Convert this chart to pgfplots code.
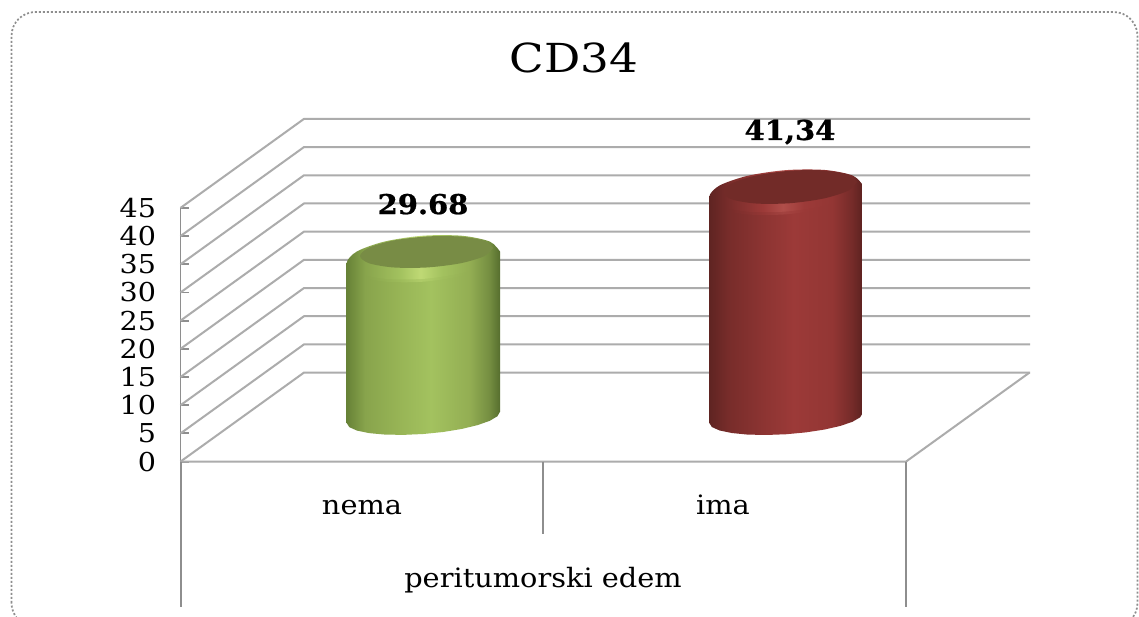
\documentclass[border=0pt]{standalone}
\usepackage{pgfplots}
\pgfplotsset{compat=1.18}
\usepackage{fontspec}
\setmainfont{DejaVu Serif}
\newfontfamily\heavy[FakeBold=0.8]{DejaVu Serif Bold}
\definecolor{axisgray}{HTML}{8E8E8E}
\definecolor{gridgray}{HTML}{ACACAC}
\definecolor{gA}{HTML}{678237}
\definecolor{gB}{HTML}{88A44C}
\definecolor{gC}{HTML}{98B556}
\definecolor{gD}{HTML}{A3C25F}
\definecolor{gE}{HTML}{93AE53}
\definecolor{gF}{HTML}{758E41}
\definecolor{gG}{HTML}{566E2E}
\definecolor{gL}{HTML}{BFD975}
\definecolor{gTop}{HTML}{788C45}
\definecolor{rA}{HTML}{5F2422}
\definecolor{rB}{HTML}{772C2A}
\definecolor{rC}{HTML}{8C3432}
\definecolor{rD}{HTML}{9C3A38}
\definecolor{rE}{HTML}{933634}
\definecolor{rF}{HTML}{752B29}
\definecolor{rG}{HTML}{5C2220}
\definecolor{rL}{HTML}{B04E4A}
\definecolor{rTop}{HTML}{722B28}
\pgfdeclarehorizontalshading{greenbody}{100bp}{color(0bp)=(gA);color(25bp)=(gA);color(31bp)=(gB);color(42.5bp)=(gC);color(52.5bp)=(gD);color(65bp)=(gE);color(71.5bp)=(gF);color(75bp)=(gG);color(100bp)=(gG)}
\pgfdeclarehorizontalshading{greenrim}{100bp}{color(0bp)=(gA);color(25bp)=(gA);color(31bp)=(gB);color(42.5bp)=(gD);color(49bp)=(gL);color(56bp)=(gD);color(65bp)=(gE);color(71.5bp)=(gF);color(75bp)=(gG);color(100bp)=(gG)}
\pgfdeclarehorizontalshading{redbody}{100bp}{color(0bp)=(rA);color(25bp)=(rA);color(31bp)=(rB);color(42.5bp)=(rC);color(52.5bp)=(rD);color(65bp)=(rE);color(71.5bp)=(rF);color(75bp)=(rG);color(100bp)=(rG)}
\pgfdeclarehorizontalshading{redrim}{100bp}{color(0bp)=(rA);color(25bp)=(rA);color(31bp)=(rB);color(42.5bp)=(rD);color(49bp)=(rL);color(56bp)=(rD);color(65bp)=(rE);color(71.5bp)=(rF);color(75bp)=(rG);color(100bp)=(rG)}
\begin{document}
\begin{tikzpicture}[x=0.75pt,y=0.75pt]
\useasboundingbox (0,0) rectangle (1139,617);
\clip (0,0) rectangle (1139,617);
\fill[white] (0,0) rectangle (1139,617);
\draw[axisgray,line width=1.3pt,dash pattern=on 1.5pt off 1.5pt,rounded corners=18pt] (11.5,-10) rectangle (1137.5,605);
\begin{axis}[
  at={(135.375pt,116.55pt)}, anchor=south west,
  scale only axis, width=543.75pt, height=190.275pt,
  xmin=180.5, xmax=905.5, ymin=0, ymax=45,
  clip=false,
  axis x line=none,
  axis y line*=left,
  axis line style={axisgray,line width=1.4pt,-},
  ytick={0,5,...,45},
  tick style={axisgray,line width=1.4pt},
  major tick length=6.5pt,
  y tick label style={font=\fontsize{19.5}{20}\selectfont,xscale=1.1,inner sep=0pt,xshift=-16.5pt},
  /pgf/number format/assume math mode=true,
  gridline/.style={gridgray,line width=1.5pt},
  frontline/.style={axisgray,line width=1.5pt},
]
% back wall and side wall gridlines
\addplot[gridline] coordinates {(180.5,0)(304,15.79)(1030,15.79)};
\addplot[gridline] coordinates {(180.5,5)(304,20.79)(1030,20.79)};
\addplot[gridline] coordinates {(180.5,10)(304,25.79)(1030,25.79)};
\addplot[gridline] coordinates {(180.5,15)(304,30.79)(1030,30.79)};
\addplot[gridline] coordinates {(180.5,20)(304,35.79)(1030,35.79)};
\addplot[gridline] coordinates {(180.5,25)(304,40.79)(1030,40.79)};
\addplot[gridline] coordinates {(180.5,30)(304,45.79)(1030,45.79)};
\addplot[gridline] coordinates {(180.5,35)(304,50.79)(1030,50.79)};
\addplot[gridline] coordinates {(180.5,40)(304,55.79)(1030,55.79)};
\addplot[gridline] coordinates {(180.5,45)(304,60.79)(1030,60.79)};
% floor edge and category separators
\addplot[gridline] coordinates {(180.5,0)(906,0)(1029.5,15.79)};
\addplot[frontline] coordinates {(180.5,0)(180.5,-25.8)};
\addplot[frontline] coordinates {(543,0)(543,-12.9)};
\addplot[frontline] coordinates {(906,0)(906,-25.8)};
% green cylinder
\addplot[draw=none,shade,shading=greenbody] coordinates {(346.7,35.23)(346.7,6.84)(349.31,6.11)(356.97,5.50)(369.16,5.05)(385.02,4.79)(403.5,4.74)(423.35,4.895)(443.2,5.25)(461.68,5.79)(477.54,6.47)(489.73,7.23)(497.39,8.04)(500,8.84)(500,37.25)};
\addplot[draw=none,shade,shading=greenrim,smooth,opacity=0.5] coordinates {(500,36.75)(489.73,38.53)(461.68,39.56)(423.35,39.57)(385.02,38.55)(356.97,36.78)(346.7,34.73)(356.97,32.95)(385.02,31.92)(423.35,31.91)(461.68,32.93)(489.73,34.70)(500,36.75)};
\addplot[draw=none,shade,shading=greenrim,smooth] coordinates {(500,37.25)(489.73,39.03)(461.68,40.06)(423.35,40.07)(385.02,39.05)(356.97,37.28)(346.7,35.23)(356.97,33.45)(385.02,32.42)(423.35,32.41)(461.68,33.43)(489.73,35.20)(500,37.25)};
\addplot[draw=none,fill=gTop,smooth] coordinates {(493,37.89)(484.09,39.17)(459.75,39.92)(426.5,39.93)(393.25,39.21)(368.91,37.94)(360,36.47)(368.91,35.19)(393.25,34.44)(426.5,34.43)(459.75,35.15)(484.09,36.42)(493,37.89)};
% red cylinder
\addplot[draw=none,shade,shading=redbody] coordinates {(709.3,46.99)(709.3,6.84)(711.91,6.13)(719.58,5.52)(731.77,5.07)(747.65,4.79)(766.13,4.72)(786,4.85)(805.87,5.18)(824.35,5.68)(840.23,6.32)(852.42,7.06)(860.09,7.84)(862.7,8.62)(862.7,49.07)};
\addplot[draw=none,shade,shading=redrim,smooth,opacity=0.5] coordinates {(862.7,48.57)(852.42,50.26)(824.35,51.23)(786,51.20)(747.65,50.19)(719.58,48.47)(709.3,46.49)(719.58,44.80)(747.65,43.83)(786,43.86)(824.35,44.87)(852.42,46.59)(862.7,48.57)};
\addplot[draw=none,shade,shading=redrim,smooth] coordinates {(862.7,49.07)(852.42,50.76)(824.35,51.73)(786,51.70)(747.65,50.69)(719.58,48.97)(709.3,46.99)(719.58,45.30)(747.65,44.33)(786,44.36)(824.35,45.37)(852.42,47.09)(862.7,49.07)};
\addplot[draw=none,fill=rTop,smooth] coordinates {(857,49.60)(848.02,50.92)(823.5,51.65)(790,51.59)(756.5,50.76)(731.98,49.38)(723,47.82)(731.98,46.50)(756.5,45.77)(790,45.83)(823.5,46.66)(848.02,48.04)(857,49.60)};
% texts
\node[anchor=base,font=\fontsize{30}{32}\selectfont,xscale=1.13] at (axis cs:574,69.1) {CD34};
\node[anchor=base,font=\fontsize{20.5}{22}\heavy,xscale=1.06] at (axis cs:423,43.9) {29.68};
\node[anchor=base,font=\fontsize{20.5}{22}\heavy,xscale=1.06] at (axis cs:790,57.05) {41,34};
\node[anchor=base,font=\fontsize{20}{22}\selectfont,xscale=1.08] at (axis cs:362,-9.3) {nema};
\node[anchor=base,font=\fontsize{20}{22}\selectfont,xscale=1.08] at (axis cs:723,-9.3) {ima};
\node[anchor=base,font=\fontsize{20}{22}\selectfont,xscale=1.08] at (axis cs:543,-22.3) {peritumorski edem};
\end{axis}
\end{tikzpicture}
\end{document}
